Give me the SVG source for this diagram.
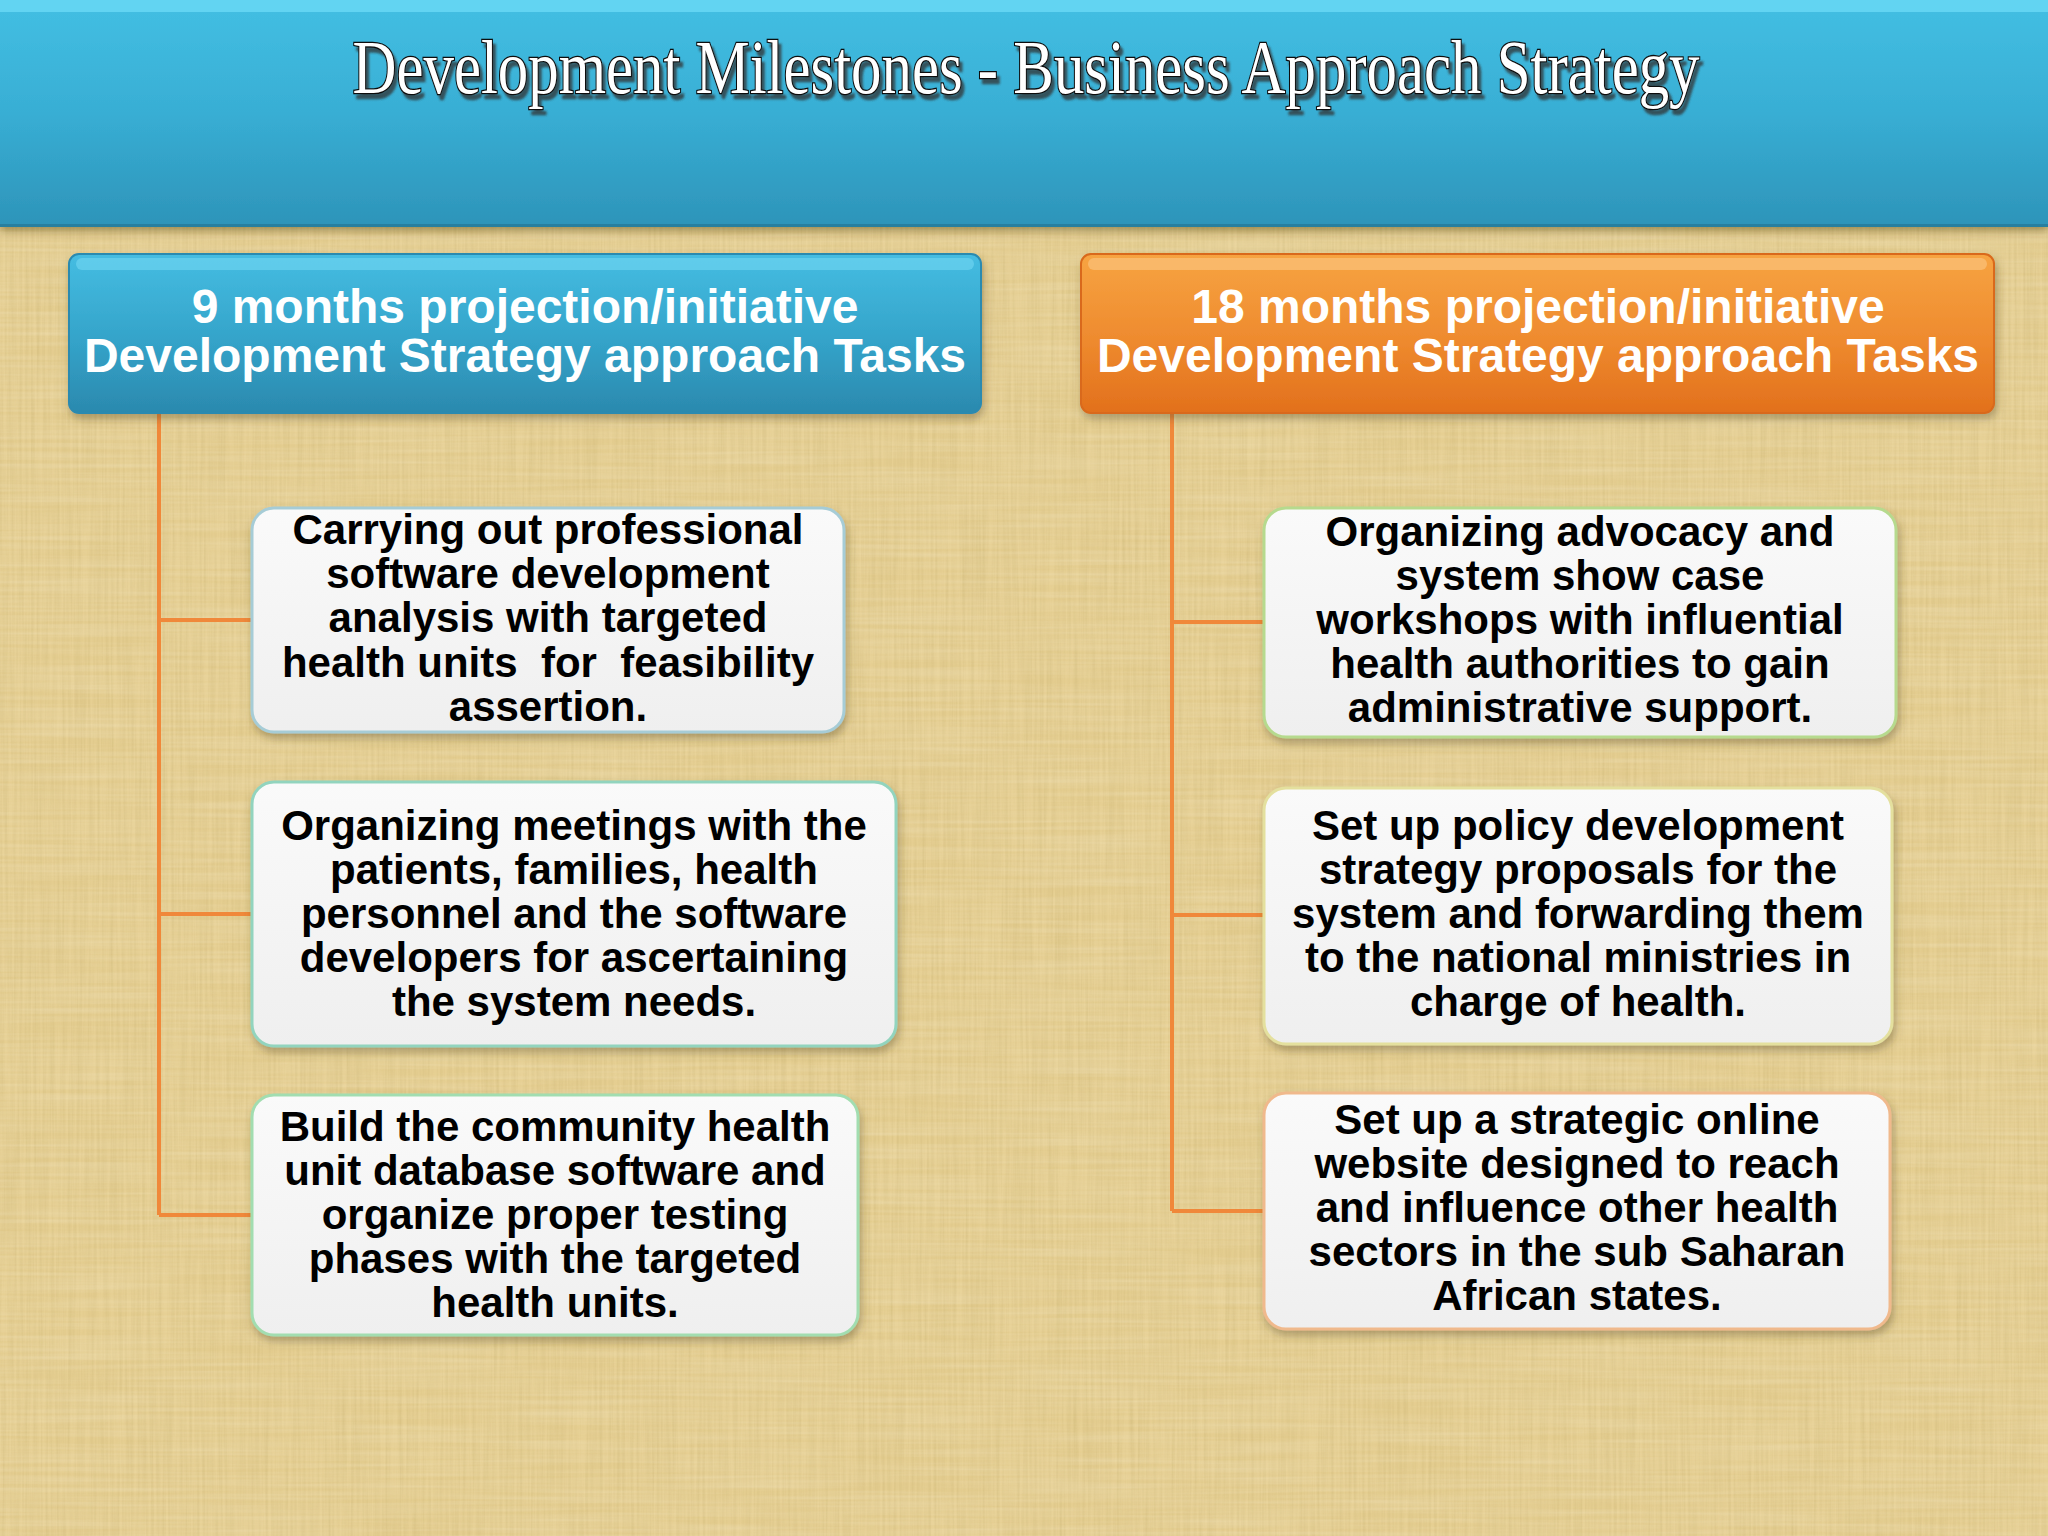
<svg xmlns="http://www.w3.org/2000/svg" width="2048" height="1536" viewBox="0 0 2048 1536">
  <defs>
    <linearGradient id="bandGrad" x1="0" y1="0" x2="0" y2="1">
      <stop offset="0" stop-color="#43BFE3"/>
      <stop offset="0.5" stop-color="#38AED4"/>
      <stop offset="1" stop-color="#2D94B9"/>
    </linearGradient>
    <linearGradient id="blueGrad" x1="0" y1="0" x2="0" y2="1">
      <stop offset="0" stop-color="#45BDE2"/>
      <stop offset="0.55" stop-color="#34A3C9"/>
      <stop offset="1" stop-color="#2B89AE"/>
    </linearGradient>
    <linearGradient id="orangeGrad" x1="0" y1="0" x2="0" y2="1">
      <stop offset="0" stop-color="#F7A442"/>
      <stop offset="0.55" stop-color="#EE8A2E"/>
      <stop offset="1" stop-color="#E2701C"/>
    </linearGradient>
    <linearGradient id="boxGrad" x1="0" y1="0" x2="0" y2="1">
      <stop offset="0" stop-color="#FAFAFA"/>
      <stop offset="1" stop-color="#EFEFEF"/>
    </linearGradient>
    <filter id="shadow" x="-10%" y="-10%" width="120%" height="130%">
      <feDropShadow dx="2" dy="5" stdDeviation="4" flood-color="#5a4a20" flood-opacity="0.4"/>
    </filter>
    <filter id="bandShadow" x="-5%" y="-5%" width="110%" height="120%">
      <feDropShadow dx="0" dy="4" stdDeviation="4" flood-color="#4a3a10" flood-opacity="0.45"/>
    </filter>
    <filter id="titleShadow" x="-5%" y="-30%" width="110%" height="160%">
      <feDropShadow dx="3" dy="5" stdDeviation="1.2" flood-color="#333333" flood-opacity="0.75"/>
    </filter>
    <filter id="texture" x="0" y="0" width="100%" height="100%">
      <feTurbulence type="fractalNoise" baseFrequency="0.35 0.008" numOctaves="3" seed="4" result="n"/>
      <feColorMatrix in="n" type="matrix" values="0 0 0 0 0.55  0 0 0 0 0.42  0 0 0 0 0.15  0 0 0 0.9 -0.25"/>
    </filter>
    <filter id="texture2" x="0" y="0" width="100%" height="100%">
      <feTurbulence type="fractalNoise" baseFrequency="0.006 0.25" numOctaves="2" seed="9" result="n"/>
      <feColorMatrix in="n" type="matrix" values="0 0 0 0 1  0 0 0 0 0.97  0 0 0 0 0.85  0 0 0 0.7 -0.2"/>
    </filter>
    <style>
      .conn { stroke: #F0883A; stroke-width: 4; fill: none; }
      .hdrText { font-family: "Liberation Sans", Arial, sans-serif; font-weight: bold; font-size: 48px; fill: #FFFFFF; text-anchor: middle; }
      .boxText { font-family: "Liberation Sans", Arial, sans-serif; font-weight: bold; font-size: 42px; fill: #000000; text-anchor: middle; }
      .task { fill: url(#boxGrad); stroke-width: 3; filter: url(#shadow); }
    </style>
  </defs>

  <!-- background -->
  <rect x="0" y="0" width="2048" height="1536" fill="#E6CF92"/>
  <rect x="0" y="0" width="2048" height="1536" filter="url(#texture)" opacity="0.6"/>
  <rect x="0" y="0" width="2048" height="1536" filter="url(#texture2)" opacity="0.45"/>

  <!-- title band -->
  <g id="title-band">
    <rect x="0" y="0" width="2048" height="227" fill="url(#bandGrad)" filter="url(#bandShadow)"/>
    <rect x="0" y="0" width="2048" height="12" fill="#62D4F2"/>
    <rect x="0" y="224" width="2048" height="3" fill="#277F9F"/>
    <text x="1026" y="93" font-family="'Liberation Serif', 'DejaVu Serif', serif" font-size="76" fill="#FFFFFF" stroke="#111111" stroke-width="2.6" paint-order="stroke" text-anchor="middle" textLength="1347" lengthAdjust="spacingAndGlyphs" filter="url(#titleShadow)">Development Milestones - Business Approach Strategy</text>
  </g>

  <!-- connectors -->
  <g id="connectors">
    <path class="conn" d="M159 413 V1215"/>
    <path class="conn" d="M159 620 H252"/>
    <path class="conn" d="M159 914 H252"/>
    <path class="conn" d="M159 1215 H252"/>
    <path class="conn" d="M1172 413 V1211"/>
    <path class="conn" d="M1172 622 H1264"/>
    <path class="conn" d="M1172 915 H1264"/>
    <path class="conn" d="M1172 1211 H1264"/>
  </g>

  <!-- header nodes -->
  <g id="header-9">
    <rect x="69" y="254" width="912" height="159" rx="10" fill="url(#blueGrad)" stroke="#2B8AB0" stroke-width="2" filter="url(#shadow)"/>
    <rect x="76" y="258" width="898" height="12" rx="6" fill="#6CD3F0" opacity="0.7"/>
    <text class="hdrText" x="525" y="323">9 months projection/initiative</text>
    <text class="hdrText" x="525" y="372">Development Strategy approach Tasks</text>
  </g>
  <g id="header-18">
    <rect x="1081" y="254" width="913" height="159" rx="10" fill="url(#orangeGrad)" stroke="#D9691A" stroke-width="2" filter="url(#shadow)"/>
    <rect x="1088" y="258" width="899" height="12" rx="6" fill="#FBC27A" opacity="0.7"/>
    <text class="hdrText" x="1538" y="323">18 months projection/initiative</text>
    <text class="hdrText" x="1538" y="372">Development Strategy approach Tasks</text>
  </g>

  <!-- left tasks -->
  <g id="task-1">
    <rect class="task" x="252" y="508" width="592" height="224" rx="22" stroke="#A6CCD6"/>
    <text class="boxText" x="548" y="544">Carrying out professional</text>
    <text class="boxText" x="548" y="588">software development</text>
    <text class="boxText" x="548" y="632">analysis with targeted</text>
    <text class="boxText" x="548" y="677" xml:space="preserve">health units  for  feasibility</text>
    <text class="boxText" x="548" y="721">assertion.</text>
  </g>
  <g id="task-2">
    <rect class="task" x="252" y="782" width="644" height="264" rx="22" stroke="#92D4BE"/>
    <text class="boxText" x="574" y="840">Organizing meetings with the</text>
    <text class="boxText" x="574" y="884">patients, families, health</text>
    <text class="boxText" x="574" y="928">personnel and the software</text>
    <text class="boxText" x="574" y="972">developers for ascertaining</text>
    <text class="boxText" x="574" y="1016">the system needs.</text>
  </g>
  <g id="task-3">
    <rect class="task" x="252" y="1095" width="606" height="240" rx="22" stroke="#A2DDB0"/>
    <text class="boxText" x="555" y="1141">Build the community health</text>
    <text class="boxText" x="555" y="1185">unit database software and</text>
    <text class="boxText" x="555" y="1229">organize proper testing</text>
    <text class="boxText" x="555" y="1273">phases with the targeted</text>
    <text class="boxText" x="555" y="1317">health units.</text>
  </g>

  <!-- right tasks -->
  <g id="task-4">
    <rect class="task" x="1264" y="508" width="632" height="229" rx="22" stroke="#B6DA8E"/>
    <text class="boxText" x="1580" y="546">Organizing advocacy and</text>
    <text class="boxText" x="1580" y="590">system show case</text>
    <text class="boxText" x="1580" y="634">workshops with influential</text>
    <text class="boxText" x="1580" y="678">health authorities to gain</text>
    <text class="boxText" x="1580" y="722">administrative support.</text>
  </g>
  <g id="task-5">
    <rect class="task" x="1264" y="788" width="628" height="256" rx="22" stroke="#E4E09E"/>
    <text class="boxText" x="1578" y="840">Set up policy development</text>
    <text class="boxText" x="1578" y="884">strategy proposals for the</text>
    <text class="boxText" x="1578" y="928">system and forwarding them</text>
    <text class="boxText" x="1578" y="972">to the national ministries in</text>
    <text class="boxText" x="1578" y="1016">charge of health.</text>
  </g>
  <g id="task-6">
    <rect class="task" x="1264" y="1093" width="626" height="236" rx="22" stroke="#F0B98C"/>
    <text class="boxText" x="1577" y="1134">Set up a strategic online</text>
    <text class="boxText" x="1577" y="1178">website designed to reach</text>
    <text class="boxText" x="1577" y="1222">and influence other health</text>
    <text class="boxText" x="1577" y="1266">sectors in the sub Saharan</text>
    <text class="boxText" x="1577" y="1310">African states.</text>
  </g>
</svg>
